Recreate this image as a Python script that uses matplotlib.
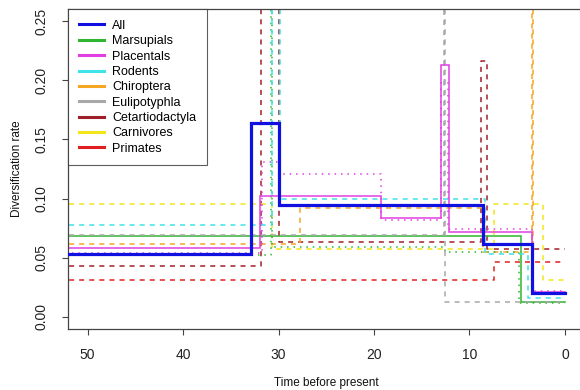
import matplotlib
matplotlib.use("Agg")
import matplotlib.pyplot as plt
from matplotlib.lines import Line2D

plt.rcParams['font.family'] = ['Liberation Sans', 'DejaVu Sans']

# Rate-shift times (Ma, oldest first) and the rate in each interval
all_t = [53, 32.9, 29.9, 8.55, 3.4, 0]
all_r = [0.053, 0.164, 0.0946, 0.0614, 0.020]

mars_t = [53, 4.6, 0]
mars_r = [0.0684, 0.0127]

mars_alt_t = [53, 30.75, 30.65, 12.6, 4.8, 0]
mars_alt_r = [0.052, 0.30, 0.059, 0.0546, 0.012]

plac_t = [53, 31.9, 19.3, 13.0, 12.15, 3.4, 0]
plac_r = [0.058, 0.1025, 0.084, 0.213, 0.072, 0.021]

plac_alt_t = [53, 31.7, 29.9, 19.3, 13.0, 12.2, 3.4, 0]
plac_alt_r = [0.054, 0.131, 0.1205, 0.082, 0.20, 0.074, 0.022]

rod_t = [53, 30.7, 29.8, 8.4, 3.9, 0]
rod_r = [0.0777, 0.30, 0.100, 0.053, 0.016]

chir_t = [53, 27.8, 8.6, 3.5, 3.3, 0]
chir_r = [0.0617, 0.0918, 0.055, 0.30, 0.020]

euli_t = [53, 12.7, 12.55, 0]
euli_r = [0.069, 0.30, 0.013]

ceta_t = [53, 31.8, 29.9, 8.8, 8.2, 0]
ceta_r = [0.0434, 0.30, 0.0636, 0.216, 0.0574]

carn_t = [53, 30.7, 7.4, 2.3, 0]
carn_r = [0.0954, 0.0575, 0.0954, 0.031]

prim_t = [53, 7.4, 0]
prim_r = [0.031, 0.046]

legend_labels = ["All", "Marsupials", "Placentals", "Rodents", "Chiroptera",
                 "Eulipotyphla", "Cetartiodactyla", "Carnivores", "Primates"]
colors = ["#1010e0", "#2fb52f", "#e23ee2", "#3fe3ea", "#f5a623",
          "#a8a8a8", "#a0202a", "#f2e61a", "#e02020"]

x_ticks = [50, 40, 30, 20, 10, 0]
y_ticks = [0.00, 0.05, 0.10, 0.15, 0.20, 0.25]

fig = plt.figure(figsize=(5.8, 3.9), dpi=100)
ax = fig.add_axes([0.118, 0.157, 0.889, 0.8195])

DASH = (0, (3.3, 3.3))
DOT = (0, (1.0, 3.2))


def stairs(t, r, color, lw=1.1, ls='-', z=2):
    ax.step(t, list(r) + [r[-1]], where='post', color=color, lw=lw,
            linestyle=ls, zorder=z, solid_joinstyle='miter')


stairs(prim_t, prim_r, colors[8], ls=DASH)
stairs(ceta_t, ceta_r, colors[6], ls=DASH)
stairs(carn_t, carn_r, colors[7], ls=DASH)
stairs(chir_t, chir_r, colors[4], ls=DASH)
stairs(mars_alt_t, mars_alt_r, colors[1], ls=DOT)
stairs(plac_alt_t, plac_alt_r, colors[2], ls=DOT)
stairs(mars_t, mars_r, colors[1])
stairs(euli_t, euli_r, colors[5], ls=DASH)
stairs(rod_t, rod_r, colors[3], ls=DASH)
stairs(plac_t, plac_r, colors[2])
stairs(all_t, all_r, colors[0], lw=2.3, z=3)

ax.set_xlim(52.0, -2.0)
ax.set_ylim(-0.01, 0.26)
ax.set_xticks(x_ticks)
ax.set_xticklabels([str(v) for v in x_ticks])
ax.set_yticks(y_ticks)
ax.set_yticklabels([f"{v:.2f}" for v in y_ticks], rotation=90, va='center')
ax.tick_params(axis='both', direction='out', length=4.5, width=0.8,
               color='#444444', labelsize=10, labelcolor='#222222')
ax.tick_params(axis='x', pad=9)
ax.tick_params(axis='y', pad=10)
for s in ax.spines.values():
    s.set_color('#444444')
    s.set_linewidth(0.9)

ax.set_xlabel("Time before present", fontsize=8.5, color='#111111', labelpad=11)
ax.set_ylabel("Diversification rate", fontsize=8.5, color='#111111', labelpad=8)

handles = [Line2D([0], [0], color=c, lw=2.2) for c in colors]
leg = ax.legend(handles, legend_labels, loc='upper left', bbox_to_anchor=(0, 1),
                borderaxespad=0, fontsize=9, frameon=True, fancybox=False,
                edgecolor='#333333', handlelength=2.0, handletextpad=0.65,
                labelspacing=0.27, borderpad=0.85)
leg.get_frame().set_linewidth(0.8)
leg.set_zorder(5)

fig.savefig("out.png", dpi=100, facecolor='white')
